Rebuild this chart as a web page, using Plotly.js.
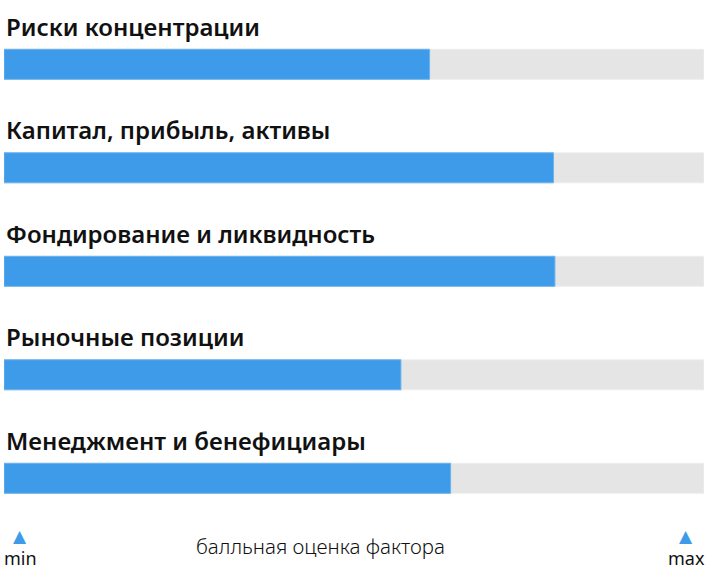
<!DOCTYPE html>
<html>
<head>
<meta charset="utf-8">
<script src="https://cdn.plot.ly/plotly-3.0.1.min.js"></script>
<style>
html,body{margin:0;padding:0;background:#fff;}
#chart{width:707px;height:576px;}
</style>
</head>
<body>
<div id="chart"></div>
<script>
const categories = [
  "Риски концентрации",
  "Капитал, прибыль, активы",
  "Фондирование и ликвидность",
  "Рыночные позиции",
  "Менеджмент и бенефициары"
];
const scores = [60.8, 78.5, 78.7, 56.7, 63.8];
const maxScore = 100;
const axisLabel = "балльная оценка фактора";
const minLabel = "min";
const maxLabel = "max";

const idx = categories.map((c, i) => i);
const FONT = "'Noto Sans', 'DejaVu Sans', sans-serif";

const track = {
  type: "bar", orientation: "h",
  x: categories.map(() => maxScore), y: idx,
  width: 0.29,
  marker: {color: "#e5e5e5", line: {color: "#eeeeee", width: 1}},
  textposition: "none", hoverinfo: "skip"
};
const fill = {
  type: "bar", orientation: "h",
  x: scores, y: idx,
  width: 0.29,
  marker: {color: "#3d9be9", line: {color: "#6cb2ee", width: 1}},
  textposition: "none", hoverinfo: "x"
};

const annotations = categories.map((c, i) => ({
  text: c, xref: "paper", x: 0, xanchor: "left", xshift: 0,
  yref: "y", y: i, yanchor: "middle", yshift: 38,
  showarrow: false,
  font: {family: FONT, size: 24, color: "#111111", weight: 600}
}));

annotations.push(
  {text: "▲", xref: "paper", yref: "paper", x: 16/700, y: 0, xanchor: "center", yanchor: "middle",
   yshift: 40, showarrow: false, font: {family: "DejaVu Sans", size: 17, color: "#3d9be9"}},
  {text: "▲", xref: "paper", yref: "paper", x: 682/700, y: 0, xanchor: "center", yanchor: "middle",
   yshift: 40, showarrow: false, font: {family: "DejaVu Sans", size: 17, color: "#3d9be9"}},
  {text: minLabel, xref: "paper", yref: "paper", x: 16/700, y: 0, xanchor: "center", yanchor: "middle",
   yshift: 18, showarrow: false, font: {family: FONT, size: 18, color: "#111111"}},
  {text: maxLabel, xref: "paper", yref: "paper", x: 682/700, y: 0, xanchor: "center", yanchor: "middle",
   yshift: 18, showarrow: false, font: {family: FONT, size: 18, color: "#111111"}},
  {text: axisLabel, xref: "paper", yref: "paper", x: 316/700, y: 0, xanchor: "center", yanchor: "middle",
   yshift: 30, showarrow: false, font: {family: FONT, size: 20.5, color: "#111111", weight: 300}}
);

const layout = {
  width: 707, height: 576,
  margin: {l: 4, r: 3, t: 0, b: 0, pad: 0},
  paper_bgcolor: "#ffffff", plot_bgcolor: "#ffffff",
  barmode: "overlay", showlegend: false,
  xaxis: {range: [0, maxScore], visible: false, fixedrange: true},
  yaxis: {range: [(576 - 64.3) / 103.5, -64.3 / 103.5], visible: false, fixedrange: true},
  annotations: annotations
};

Plotly.newPlot("chart", [track, fill], layout, {displayModeBar: false, staticPlot: true});
</script>
</body>
</html>
